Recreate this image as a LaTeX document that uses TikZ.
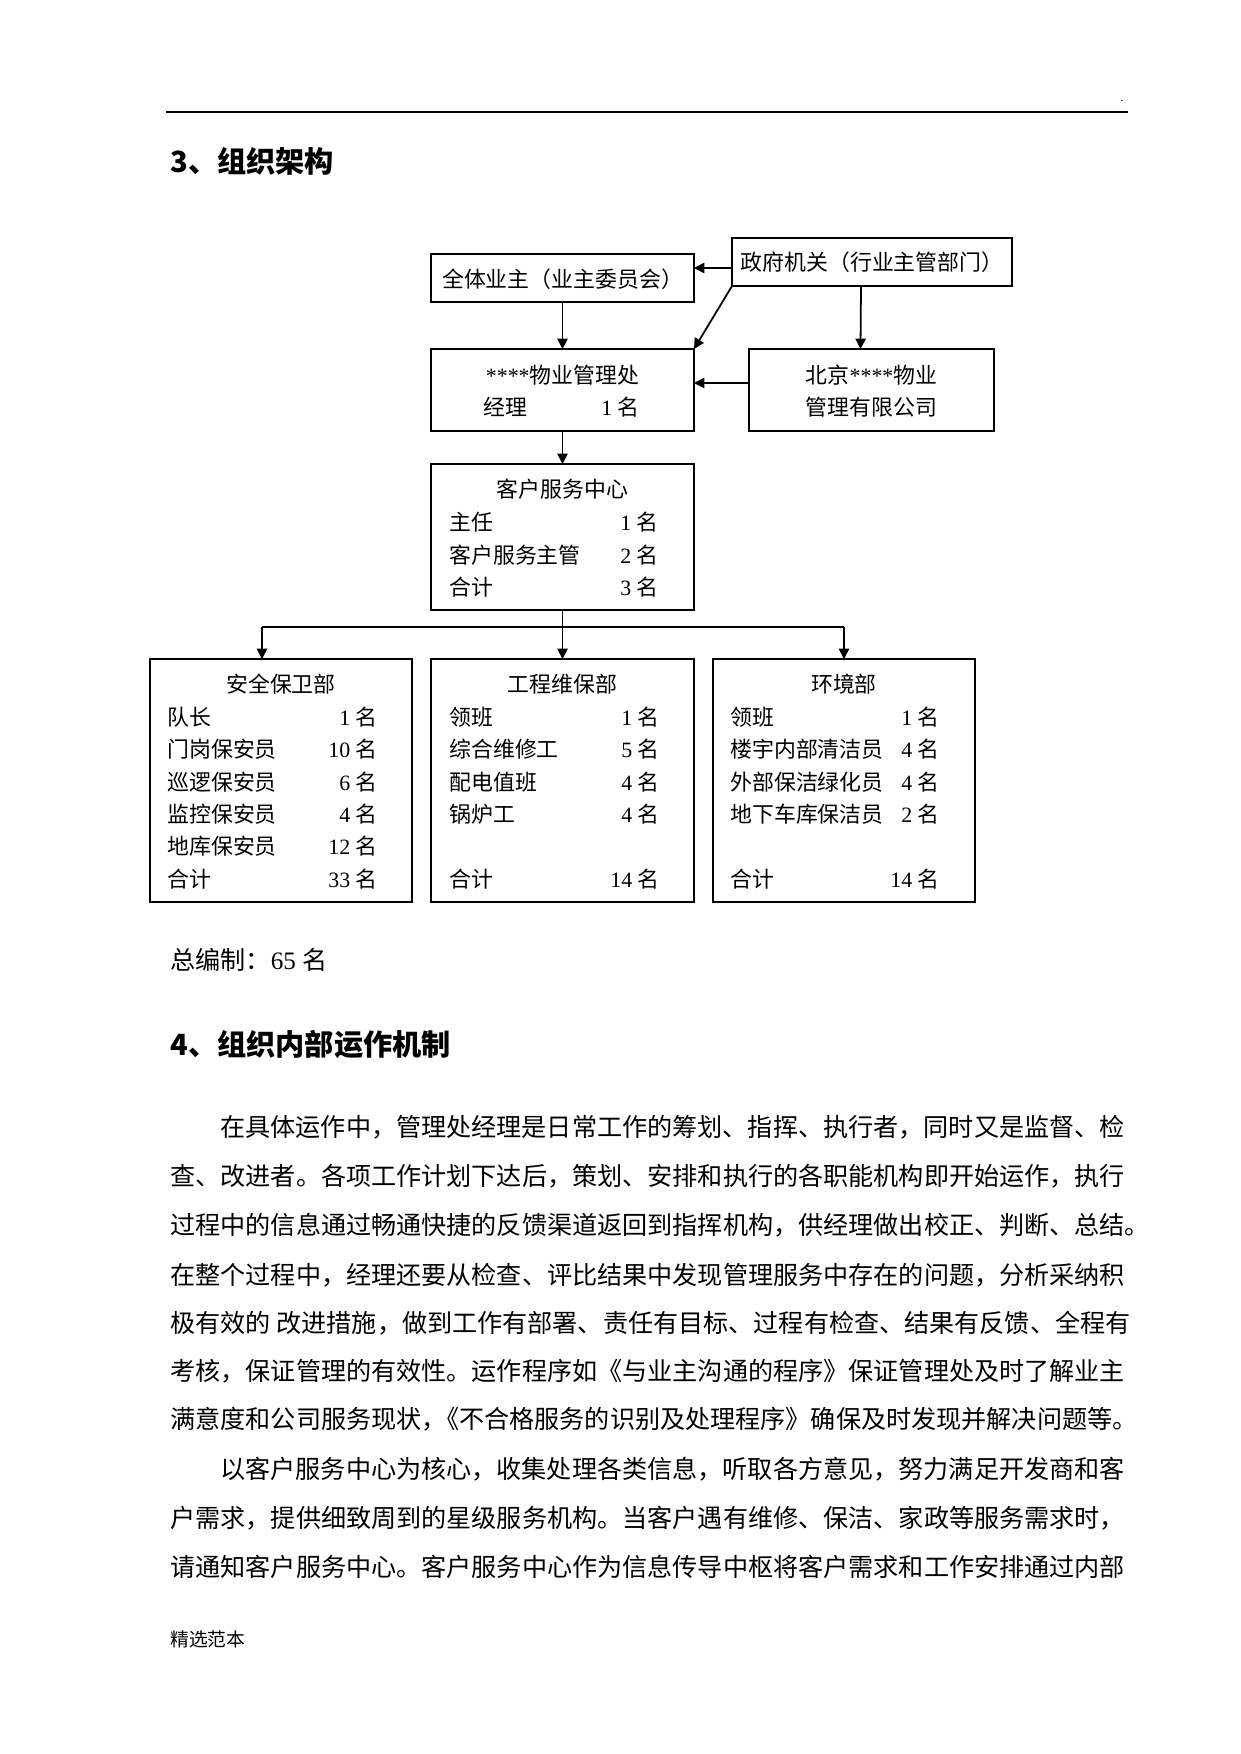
\documentclass[tikz,border=0pt]{standalone}
\usepackage{fontspec}
\setmainfont{Liberation Serif}
\newfontfamily\cjk{Noto Sans CJK SC}
\usetikzlibrary{arrows.meta,calc}
\def\pxu{0.4797pt}
\newcommand{\ming}[1]{{\rmfamily #1 }名}
\newcommand{\bx}[5]{\node[box,minimum width={(#4-#2)*\pxu},minimum height={(#5-#3)*\pxu}] (#1) at (#2,#3) {};}
\newcommand{\rw}[6]{\node[txt,anchor=west] (#1l) at (#2,#4) {#5};\node[txt,anchor=east] (#1r) at (#3,#4) {\ming{#6}};}
\newcommand{\halt}[1]{{\addfontfeature{RawFeature=+halt}#1}}
\begin{document}
\begin{tikzpicture}[x=0.4797pt,y=-0.4797pt,
  box/.style={draw,line width=0.9pt,inner sep=0pt,outer sep=0pt,anchor=north west},
  txt/.style={inner sep=0pt,font=\cjk\fontsize{10.5}{12}\selectfont},
  para/.style={inner sep=0pt,anchor=west,font=\cjk\fontsize{12.05}{14}\selectfont},
  head/.style={inner sep=0pt,anchor=west,font=\cjk\bfseries\fontsize{14}{16}\selectfont},
  conn/.style={line width=0.85pt},
  arr/.style={line width=0.85pt,-{Triangle[length=5pt,width=5pt]}}]
\useasboundingbox (0,0) rectangle (1241,1754);
\fill[white] (0,0) rectangle (1241,1754);

% header rule
\coordinate (r1) at (166,112);
\coordinate (r2) at (1128,112);
\draw[line width=1.1pt] (r1) -- (r2);
\node[inner sep=0pt,font=\fontsize{6}{6}\selectfont] (dot) at (1122,101) {.};

\node[head] (h3) at (170,161) {3、组织架构};

% boxes
\bx{all}{431}{254}{694}{302}
\bx{gov}{732}{238}{1012}{286}
\bx{wy}{431}{349}{694}{431}
\bx{bj}{749}{349}{994}{431}
\bx{kf}{431}{464}{694}{610}
\bx{da}{150}{659}{412}{902}
\bx{db}{431}{659}{694}{902}
\bx{dc}{713}{659}{975}{902}

% box texts
\node[txt] (allt) at (562.5,279) {全体业主（业主委员会）};
\node[txt] (govt) at (872,262) {政府机关（行业主管部门）};
\node[txt] (wyt) at (562.5,375) {{\rmfamily ****}物业管理处};
\rw{wy1}{483}{640}{407}{经理}{1}
\node[txt] (bjt1) at (871.5,375) {北京{\rmfamily ****}物业};
\node[txt] (bjt2) at (871.5,407) {管理有限公司};

\node[txt] (kft) at (562.5,489) {客户服务中心};
\rw{kf1}{449}{659}{522}{主任}{1}
\rw{kf2}{449}{659}{555}{客户服务主管}{2}
\rw{kf3}{449}{659}{587}{合计}{3}

\node[txt] (dat) at (281,684) {安全保卫部};
\rw{da1}{167}{378}{717}{队长}{1}
\rw{da2}{167}{378}{749}{门岗保安员}{10}
\rw{da3}{167}{378}{782}{巡逻保安员}{6}
\rw{da4}{167}{378}{814}{监控保安员}{4}
\rw{da5}{167}{378}{846}{地库保安员}{12}
\rw{da6}{167}{378}{879}{合计}{33}

\node[txt] (dbt) at (562.5,684) {工程维保部};
\rw{db1}{449}{660}{717}{领班}{1}
\rw{db2}{449}{660}{749}{综合维修工}{5}
\rw{db3}{449}{660}{782}{配电值班}{4}
\rw{db4}{449}{660}{814}{锅炉工}{4}
\rw{db6}{449}{660}{879}{合计}{14}

\node[txt] (dct) at (844,684) {环境部};
\rw{dc1}{730}{940}{717}{领班}{1}
\rw{dc2}{730}{940}{749}{楼宇内部清洁员}{4}
\rw{dc3}{730}{940}{782}{外部保洁绿化员}{4}
\rw{dc4}{730}{940}{814}{地下车库保洁员}{2}
\rw{dc6}{730}{940}{879}{合计}{14}

% connectors
\coordinate (g1) at ($(gov.west)+(0,6)$);
\draw[arr] (g1) -- (g1 -| all.east);
\draw[arr] (all.south) -- (wy.north);
\draw[arr] (gov.south west) -- (wy.north east);
\draw[arr] ($(gov.south)+(-11,0)$) -- ($(bj.north)+(-11,0)$);
\coordinate (b1) at ($(bj.west)+(0,-7)$);
\draw[arr] (b1) -- (b1 -| wy.east);
\draw[arr] (wy.south) -- (kf.north);
\coordinate (br) at ($(kf.south)+(0,17)$);
\coordinate (a1) at ($(da.north)+(-19,0)$);
\draw[conn] (a1 |- br) -- (dc.north |- br);
\draw[arr] (kf.south) -- (db.north);
\draw[arr] (a1 |- br) -- (a1);
\draw[arr] (dc.north |- br) -- (dc.north);

% texts below
\node[para] (tot) at (170,960) {总编制：{\rmfamily 65 }名};
\node[head] (h4) at (170,1044) {4、组织内部运作机制};

\node[para] (p1) at (220,1127) {在具体运作中，管理处经理是日常工作的筹划、指挥、执行者，同时又是监督、检};
\node[para] (p2) at (170,1176) {查、改进者。各项工作计划下达后，策划、安排和执行的各职能机构即开始运作，执行};
\node[para] (p3) at (170,1225) {过程中的信息通过畅通快捷的反馈渠道返回到指挥机构，供经理做出校正、判断、总结\halt{。}};
\node[para] (p4) at (170,1275) {在整个过程中，经理还要从检查、评比结果中发现管理服务中存在的问题，分析采纳积};
\node[para] (p5) at (170,1323) {极有效的 改进措施，做到工作有部署、责任有目标、过程有检查、结果有反馈、全程有};
\node[para] (p6) at (170,1371) {考核，保证管理的有效性。运作程序如《与业主沟通的程序》保证管理处及时了解业主};
\node[para] (p7) at (170,1419) {满意度和公司服务现状\halt{，}《不合格服务的识别及处理程序》确保及时发现并解决问题等\halt{。}};
\node[para] (p8) at (220,1469) {以客户服务中心为核心，收集处理各类信息，听取各方意见，努力满足开发商和客};
\node[para] (p9) at (170,1518) {户需求，提供细致周到的星级服务机构。当客户遇有维修、保洁、家政等服务需求时，};
\node[para] (p10) at (170,1567) {请通知客户服务中心。客户服务中心作为信息传导中枢将客户需求和工作安排通过内部};

\node[inner sep=0pt,anchor=west,font=\cjk\fontsize{9}{10}\selectfont] (foot) at (170,1639) {精选范本};
\end{tikzpicture}
\end{document}
